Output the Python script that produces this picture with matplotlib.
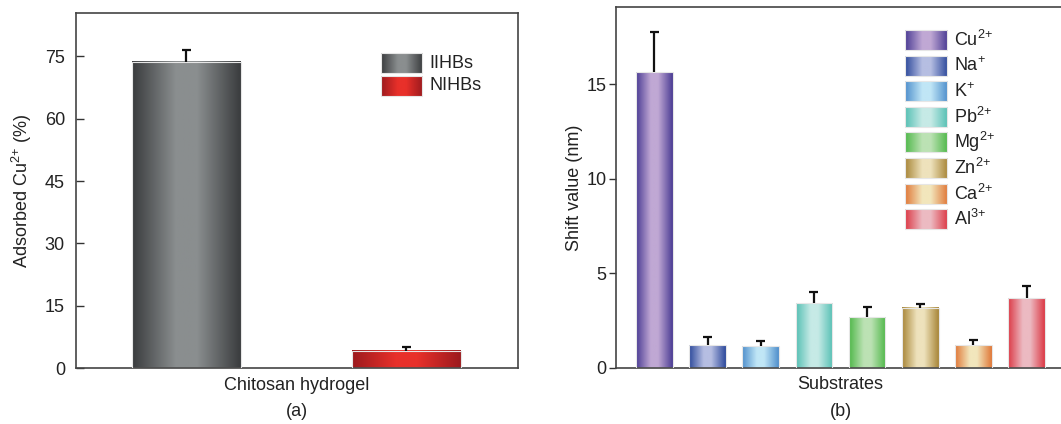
import matplotlib
matplotlib.use("Agg")
import matplotlib.pyplot as plt
import numpy as np
from matplotlib.colors import LinearSegmentedColormap

plt.rcParams['font.family'] = ['Liberation Sans', 'DejaVu Sans']
plt.rcParams['mathtext.default'] = 'regular'
plt.rcParams['font.size'] = 13

# ---- data (a) ----
hydrogel_labels = ['IIHBs', 'NIHBs']
hydrogel_values = [73.7, 4.2]
hydrogel_errors = [2.7, 1.0]
hydrogel_edge = ['#3a3c3e', '#9c1a1e']
hydrogel_center = ['#8a8e8f', '#e8302a']

# ---- data (b) ----
ion_labels = ['Cu$^{2{+}}$', 'Na$^{{+}}$', 'K$^{{+}}$', 'Pb$^{2{+}}$',
              'Mg$^{2{+}}$', 'Zn$^{2{+}}$', 'Ca$^{2{+}}$', 'Al$^{3{+}}$']
shift_values = [15.67, 1.2, 1.15, 3.41, 2.67, 3.18, 1.2, 3.67]
shift_errors = [2.08, 0.44, 0.28, 0.61, 0.53, 0.21, 0.27, 0.67]
ion_edge = ['#4b3c94', '#2e4a9c', '#4f8fcc', '#56c0b4',
            '#50b84a', '#a88638', '#e07838', '#dc3a46']
ion_center = ['#c0a8d4', '#b6bee2', '#c0e6f6', '#c6eae6',
              '#bce2b4', '#eee2bc', '#f2e6bc', '#ecbac2']

TXT = '#222222'


def grad_cmap(edge, center):
    return LinearSegmentedColormap.from_list(
        'g', [(0, edge), (0.4, center), (0.6, center), (1, edge)])


GRAD = np.linspace(0, 1, 128).reshape(1, -1)


def gradient_bars(ax, xs, vals, width, edges, centers):
    for x, v, e, c in zip(xs, vals, edges, centers):
        ax.imshow(GRAD, cmap=grad_cmap(e, c), aspect='auto',
                  extent=[x - width / 2, x + width / 2, 0, v],
                  interpolation='bilinear', zorder=2)
        ax.add_patch(plt.Rectangle((x - width / 2, 0), width, v, fill=False,
                                   edgecolor='#e6e6e6', lw=0.8, zorder=3))


def upper_errors(ax, xs, vals, errs, capw):
    # one-sided (upper) error bars: stem + cap, no lower cap
    tops = np.asarray(vals) + np.asarray(errs)
    ax.vlines(xs, vals, tops, colors='#111111', lw=1.6, zorder=6)
    ax.hlines(tops, np.asarray(xs) - capw, np.asarray(xs) + capw,
              colors='#111111', lw=1.6, zorder=6)


def gradient_legend(ax, labels, edges, centers, x0, x1, y_tops, h, tx):
    for lab, e, c, yt in zip(labels, edges, centers, y_tops):
        ax.imshow(GRAD, cmap=grad_cmap(e, c), aspect='auto',
                  extent=[x0, x1, yt - h, yt], transform=ax.transAxes,
                  interpolation='bilinear', zorder=4)
        ax.add_patch(plt.Rectangle((x0, yt - h), x1 - x0, h, fill=False,
                                   edgecolor='#e6e6e6', lw=0.8,
                                   transform=ax.transAxes, zorder=5))
        ax.text(tx, yt - h / 2, lab, transform=ax.transAxes, va='center',
                ha='left', fontsize=13, color=TXT)


fig = plt.figure(figsize=(10.61, 4.24), dpi=100)

# ---------- panel (a) ----------
ax1 = fig.add_axes([76 / 1061, 1 - 368.3 / 424, 442 / 1061, 355 / 424])
xa = np.arange(len(hydrogel_values))
gradient_bars(ax1, xa, hydrogel_values, 0.495, hydrogel_edge, hydrogel_center)
upper_errors(ax1, xa, hydrogel_values, hydrogel_errors, 0.02)
ax1.set_xlim(-0.502, 1.507)
ax1.set_ylim(0, 85.3)
ax1.set_yticks([0, 15, 30, 45, 60, 75])
ax1.set_xticks([])
ax1.tick_params(axis='y', direction='in', length=6, width=1, colors='#333333',
                labelcolor=TXT, labelsize=13, pad=8)
ax1.set_ylabel('Adsorbed Cu$^{2{+}}$ (%)', fontsize=13, color=TXT, labelpad=8)
ax1.set_xlabel('Chitosan hydrogel', fontsize=13, color=TXT, labelpad=6)
for s in ax1.spines.values():
    s.set_color('#444444')
    s.set_linewidth(1.2)
h1 = 20 / 355
gradient_legend(ax1, hydrogel_labels, hydrogel_edge, hydrogel_center,
                0.690, 0.783, [(368.3 - 53) / 355, (368.3 - 76) / 355],
                h1, 0.799)

# ---------- panel (b) ----------
ax2 = fig.add_axes([616 / 1061, 1 - 367.7 / 424, 449 / 1061, 360.4 / 424])
xb = np.arange(len(shift_values))
gradient_bars(ax2, xb, shift_values, 0.69, ion_edge, ion_center)
upper_errors(ax2, xb, shift_values, shift_errors, 0.085)
ax2.set_xlim(-0.72, 7.72)
ax2.set_ylim(0, 19.08)
ax2.set_yticks([0, 5, 10, 15])
ax2.set_xticks([])
ax2.tick_params(axis='y', direction='out', length=5, width=1, colors='#333333',
                labelcolor=TXT, labelsize=13, pad=2)
ax2.set_ylabel('Shift value (nm)', fontsize=13, color=TXT, labelpad=2)
ax2.set_xlabel('Substrates', fontsize=13, color=TXT, labelpad=6)
for s in ax2.spines.values():
    s.set_color('#444444')
    s.set_linewidth(1.2)
h2 = 20 / 360.4
tops_b = [(367.7 - (30 + 25.6 * i)) / 360.4 for i in range(len(ion_labels))]
gradient_legend(ax2, ion_labels, ion_edge, ion_center,
                0.644, 0.738, tops_b, h2, 0.753)

fig.text(297 / 1061, 1 - 411 / 424, '(a)', ha='center', va='center',
         fontsize=13, color=TXT)
fig.text(841 / 1061, 1 - 411 / 424, '(b)', ha='center', va='center',
         fontsize=13, color=TXT)

fig.savefig('out.png', dpi=100)
